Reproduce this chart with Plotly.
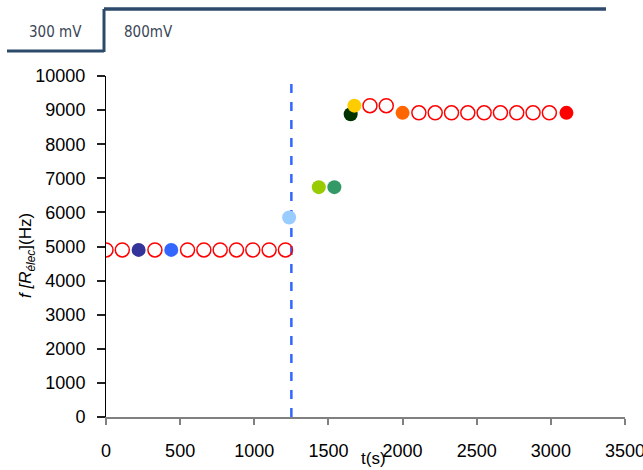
import plotly.graph_objects as go

# ---- data ----
open_x = [0, 110, 330, 550, 660, 770, 880, 990, 1100, 1210,
          1780, 1890,
          2110, 2220, 2330, 2440, 2550, 2660, 2770, 2880, 2990]
open_y = [4900] * 10 + [9130] * 2 + [8920] * 9

filled_x = [220, 440, 1235, 1435, 1540, 1650, 1675, 2000, 3105]
filled_y = [4900, 4900, 5850, 6740, 6740, 8880, 9130, 8920, 8920]
filled_colors = ["#333399", "#3366ff", "#99ccff", "#99cc00", "#339966",
                 "#003300", "#ffcc00", "#ff6600", "#ff0000"]

switch_x = [1250, 1250]
switch_y = [0, 10000]

x_ticks = [0, 500, 1000, 1500, 2000, 2500, 3000, 3500]
y_ticks = [0, 1000, 2000, 3000, 4000, 5000, 6000, 7000, 8000, 9000, 10000]
y_tick_labels = [str(v) for v in y_ticks]
x_tick_labels = [str(v) for v in x_ticks]

voltage_labels = ["300 mV", "800mV"]
x_title = "t(s)"
y_title = "<i>f [R<sub>élec</sub></i>](Hz)"

fig = go.Figure()

fig.add_trace(go.Scatter(
    x=switch_x, y=switch_y, mode="lines",
    line=dict(color="#3366ff", width=2.5, dash="dash"),
    showlegend=False, hoverinfo="skip"))

fig.add_trace(go.Scatter(
    x=open_x, y=open_y, mode="markers",
    marker=dict(size=14, color="rgba(0,0,0,0)",
                line=dict(color="#ff0000", width=1.5)),
    showlegend=False))

fig.add_trace(go.Scatter(
    x=filled_x, y=filled_y, mode="markers",
    marker=dict(size=14, color=filled_colors, line=dict(width=0)),
    showlegend=False))

fig.update_layout(
    width=643, height=470,
    margin=dict(l=106, r=18, t=76, b=53),
    paper_bgcolor="white", plot_bgcolor="white",
    font=dict(family="Liberation Sans, Arial", size=18, color="black"),
    xaxis=dict(range=[0, 3500], tickvals=x_ticks, ticktext=x_tick_labels,
               showgrid=False, zeroline=False, automargin=False,
               showline=True, linecolor="#808080", linewidth=2,
               ticks="outside", ticklen=6, tickcolor="#808080", tickwidth=2,
               tickfont=dict(size=18), fixedrange=True,
               ticklabeloverflow="allow", ticklabelstandoff=10),
    yaxis=dict(range=[0, 10000], tickvals=y_ticks, ticktext=y_tick_labels,
               showgrid=False, zeroline=False, automargin=False,
               showline=True, linecolor="black", linewidth=1,
               ticks="outside", ticklen=8, tickcolor="#222222", tickwidth=1.5,
               tickfont=dict(size=18), fixedrange=True,
               ticklabelstandoff=8),
)

# helper for pixel placement of decorations
PW, PH = 519, 341
def px(x):
    return (x - 106) / PW
def py(y):
    return (417 - y) / PH

fig.add_annotation(xref="paper", yref="paper", x=px(373), y=py(459),
                   xanchor="center", yanchor="middle", text=x_title,
                   showarrow=False, font=dict(size=17, color="black"))
fig.add_annotation(xref="paper", yref="paper", x=px(27), y=py(256),
                   xanchor="center", yanchor="middle", text=y_title,
                   textangle=-90, showarrow=False,
                   font=dict(size=17, color="black"))

# header voltage step
line_col = "#2d4a6b"
fig.add_shape(type="line", xref="paper", yref="paper",
              x0=px(7), x1=px(104), y0=py(51), y1=py(51),
              line=dict(color=line_col, width=3))
fig.add_shape(type="line", xref="paper", yref="paper",
              x0=px(104), x1=px(104), y0=py(52), y1=py(9),
              line=dict(color=line_col, width=3))
fig.add_shape(type="line", xref="paper", yref="paper",
              x0=px(104), x1=px(606), y0=py(9), y1=py(9),
              line=dict(color=line_col, width=3.5))
fig.add_annotation(xref="paper", yref="paper", x=px(55), y=py(32),
                   xanchor="center", yanchor="middle",
                   text=voltage_labels[0], showarrow=False,
                   font=dict(family="DejaVu Sans Condensed, Noto Sans", size=15, color="#3a4656"))
fig.add_annotation(xref="paper", yref="paper", x=px(148), y=py(32),
                   xanchor="center", yanchor="middle",
                   text=voltage_labels[1], showarrow=False,
                   font=dict(family="DejaVu Sans Condensed, Noto Sans", size=15, color="#3a4656"))

fig.write_html("out.html", config={"displayModeBar": False},
               post_script="document.body.style.margin='0';document.body.style.padding='0';")
